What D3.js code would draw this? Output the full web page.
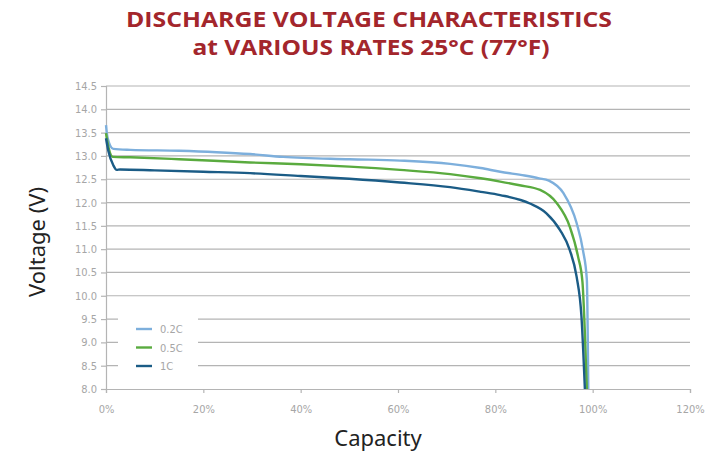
<!DOCTYPE html>
<html>
<head>
<meta charset="utf-8">
<script src="https://cdn.jsdelivr.net/npm/d3@7"></script>
<style>
  body { margin: 0; background: #fff; }
  svg { display: block; }
</style>
</head>
<body>
<div id="chart"></div>
<script>
// capacity (%) / voltage (V)
const cap02 = [0, 0.3, 1.5, 5, 15, 22.7, 29.6, 36.4, 50, 60.4, 70.7, 77, 81, 86, 89, 91, 94, 96.7, 98, 98.8, 99.1];
const volt02 = [13.66, 13.4, 13.15, 13.13, 13.11, 13.08, 13.04, 12.98, 12.93, 12.9, 12.83, 12.74, 12.66, 12.58, 12.52, 12.47, 12.2, 11.56, 10.98, 10.35, 8.0];

const cap05 = [0, 0.3, 1.4, 5, 15, 29.6, 40, 50, 60.4, 70.7, 77, 81, 85, 89.2, 92.6, 95.3, 97, 97.9, 98.4, 98.8];
const volt05 = [13.49, 13.3, 12.98, 12.97, 12.93, 12.86, 12.82, 12.77, 12.7, 12.61, 12.52, 12.45, 12.37, 12.27, 11.99, 11.48, 10.84, 10.3, 9.2, 8.0];

const cap1 = [0, 0.5, 1.5, 2.2, 2.9, 10, 20, 29.6, 40, 50, 60.4, 70.7, 77, 81, 87.1, 90.5, 93.3, 95.3, 96.7, 97.7, 98.4];
const volt1 = [13.38, 13.1, 12.8, 12.7, 12.71, 12.69, 12.66, 12.63, 12.57, 12.51, 12.43, 12.33, 12.23, 12.16, 11.98, 11.77, 11.41, 10.98, 10.41, 9.55, 8.0];

const seriesNames = ["0.2C", "0.5C", "1C"];
const xTicks = [0, 20, 40, 60, 80, 100, 120];
const yTicks = [8.0, 8.5, 9.0, 9.5, 10.0, 10.5, 11.0, 11.5, 12.0, 12.5, 13.0, 13.5, 14.0, 14.5];

const colors = ["#7dafdc", "#5aab3f", "#1b5c86"];
const tickFont = "'DejaVu Sans Condensed', 'Roboto', sans-serif";

const W = 705, H = 455;
const margin = { top: 86, right: 15, bottom: 66, left: 106 };
const width = W - margin.left - margin.right,
    height = H - margin.top - margin.bottom;

const svg = d3.select("#chart").append("svg")
    .attr("width", W)
    .attr("height", H);

// title
const title = svg.append("g")
    .attr("fill", "#a3262c")
    .attr("font-family", "'Open Sans', 'DejaVu Sans', sans-serif")
    .attr("font-weight", "bold")
    .attr("text-anchor", "middle");
title.append("text")
    .attr("x", 369).attr("y", 27)
    .attr("font-size", 21)
    .attr("textLength", 486).attr("lengthAdjust", "spacingAndGlyphs")
    .text("DISCHARGE VOLTAGE CHARACTERISTICS");
title.append("text")
    .attr("x", 371).attr("y", 55)
    .attr("font-size", 21)
    .attr("textLength", 357).attr("lengthAdjust", "spacingAndGlyphs")
    .text("at VARIOUS RATES 25°C (77°F)");

const g = svg.append("g")
    .attr("transform", "translate(" + margin.left + "," + margin.top + ")");

const x = d3.scaleLinear().domain([0, 120]).range([0, width]);
const y = d3.scaleLinear().domain([8, 14.5]).range([height, 0]);

// horizontal grid
g.append("g")
    .selectAll("line")
    .data(yTicks.filter(d => d > 8))
    .join("line")
    .attr("x1", 0).attr("x2", width)
    .attr("y1", d => y(d)).attr("y2", d => y(d))
    .attr("stroke", "#b4b4b4")
    .attr("stroke-width", 1.2);

// Y axis
const yAxis = g.append("g")
    .call(d3.axisLeft(y).tickValues(yTicks).tickFormat(d3.format(".1f")).tickSize(5).tickPadding(4));
yAxis.select(".domain").attr("stroke", "#b4b4b4").attr("stroke-width", 1.2);
yAxis.selectAll(".tick line").attr("stroke", "#b4b4b4").attr("stroke-width", 1.2);
yAxis.selectAll("text")
    .attr("fill", "#a6a6a6")
    .attr("font-family", tickFont)
    .attr("font-size", 11);

// X axis
const xAxis = g.append("g")
    .attr("transform", "translate(0," + height + ")")
    .call(d3.axisBottom(x).tickValues(xTicks).tickFormat(d => d + "%").tickSize(4).tickPadding(12));
xAxis.select(".domain").attr("stroke", "#b4b4b4").attr("stroke-width", 1.2);
xAxis.selectAll(".tick line").attr("stroke", "#b4b4b4").attr("stroke-width", 1.2);
xAxis.selectAll("text")
    .attr("fill", "#a6a6a6")
    .attr("font-family", tickFont)
    .attr("font-size", 11);

// curves
const data = [
    cap02.map((c, i) => ({ c: c, v: volt02[i] })),
    cap05.map((c, i) => ({ c: c, v: volt05[i] })),
    cap1.map((c, i) => ({ c: c, v: volt1[i] }))
];
const line = d3.line()
    .x(d => x(d.c))
    .y(d => y(d.v))
    .curve(d3.curveMonotoneX);

g.append("g")
    .selectAll("path")
    .data(data)
    .join("path")
    .attr("fill", "none")
    .attr("stroke", (d, i) => colors[i])
    .attr("stroke-width", 2.4)
    .attr("d", line);

// legend (white box over the grid)
const legend = g.append("g");
legend.append("rect")
    .attr("x", 12).attr("y", 228)
    .attr("width", 80).attr("height", 58)
    .attr("fill", "#fff");
const item = legend.selectAll(".item")
    .data(seriesNames)
    .join("g")
    .attr("class", "item")
    .attr("transform", (d, i) => "translate(30," + (243 + i * 18.5) + ")");
item.append("line")
    .attr("x1", 0).attr("x2", 16)
    .attr("stroke", (d, i) => colors[i])
    .attr("stroke-width", 2.4);
item.append("text")
    .attr("x", 24).attr("y", 4)
    .attr("fill", "#a6a6a6")
    .attr("font-family", tickFont)
    .attr("font-size", 11)
    .text(d => d);

// axis titles
svg.append("text")
    .attr("transform", "translate(45,242) rotate(-90)")
    .attr("text-anchor", "middle")
    .attr("font-family", "'Noto Sans', 'Open Sans', sans-serif")
    .attr("font-size", 22)
    .attr("fill", "#222")
    .text("Voltage (V)");
svg.append("text")
    .attr("x", 378).attr("y", 446)
    .attr("text-anchor", "middle")
    .attr("font-family", "'Noto Sans', 'Open Sans', sans-serif")
    .attr("font-size", 22)
    .attr("fill", "#222")
    .text("Capacity");
</script>
</body>
</html>
